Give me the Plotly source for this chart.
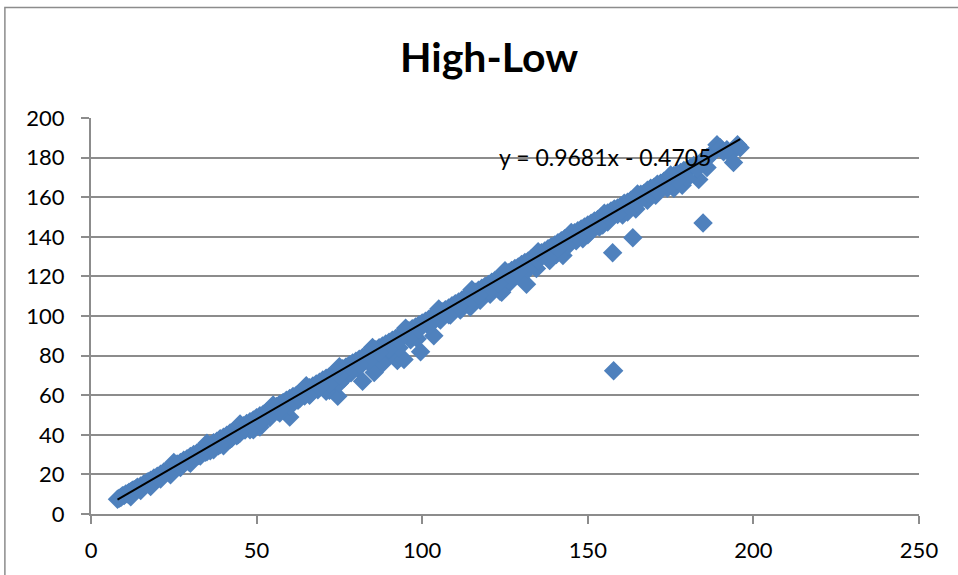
import plotly.graph_objects as go

# Daily high (x) and low (y) prices
high_price = [
    8, 8.5, 9, 9.5, 10, 10.5, 11, 11.5, 12, 12.5,
    13, 13.5, 14, 15, 15.5, 16, 17, 17.5, 18, 19,
    19.5, 20, 21, 21.5, 22, 23, 23.5, 24, 25, 25.5,
    26, 27, 27.5, 28, 29, 29.5, 30,
    31, 32, 32.5, 33, 34, 34.5, 35, 36, 36.5, 37,
    38, 38.5, 39, 40, 40.5, 41, 42, 42.5, 43, 44,
    44.5, 45, 46, 46.5, 47, 48, 48.5, 49, 50, 50.5,
    51, 52, 52.5, 53, 54, 54.5, 55, 56, 56.5, 57,
    58, 58.5, 59, 60, 60.5, 44, 49, 51, 60, 57,
    40, 37, 35,
    61, 62, 62.5, 63, 64, 64.5, 65, 66, 66.5, 67,
    68, 68.5, 69, 70, 70.5, 71, 72, 72, 73, 74,
    74.5, 75, 76, 76.5, 77, 78, 78.5, 79, 80, 80.5,
    81, 82, 82, 83, 84, 84.5, 85, 86, 85.5, 87,
    88, 88.5, 89, 90, 90.5, 91, 92, 92.5, 93, 94,
    94.5, 95, 96, 96.5, 97, 98, 98.5, 99, 100, 99.5,
    101, 102, 103, 103.5, 75, 71, 88, 93,
    104, 105, 105.5, 106, 107, 108, 108.5, 109, 110, 111,
    111.5, 112, 113, 114, 114.5, 115, 116, 117, 117.5, 118,
    119, 120, 120.5, 121, 122, 123, 123.5, 124, 125, 126,
    126.5, 127, 128, 129, 129.5, 130, 131, 131.5, 132, 133,
    134, 134.5, 135, 136, 137, 138.5, 138, 139, 140, 140.5,
    141, 142, 142.5, 143, 144, 145, 146.5, 146, 147, 148,
    148.5, 149, 150, 150.5, 112, 124,
    151, 152, 153, 153.5, 154, 155, 154.5, 156, 157, 157.5,
    158, 157.8, 159, 160, 160.5, 161, 162, 163, 163.6, 164,
    164.5, 165, 166, 167, 168, 168.5, 169, 170, 170.5, 171,
    172, 173, 174, 175, 176, 176, 177, 178, 178.5, 179,
    180, 181, 182, 183.5, 184, 184.8, 185, 186, 187, 188,
    189, 190, 191, 192, 193, 194, 195.2, 196,
    12, 18, 24, 30, 36, 42, 48, 54, 60, 66,
    72, 78, 84, 90, 96, 102, 108, 114, 120, 126,
    132, 138, 144, 150, 156, 162, 168, 174, 180, 186,
    15, 21, 27, 33, 39, 45, 51, 57, 63, 69,
    75, 81, 87, 93, 99, 105, 111, 117, 123, 129,
    135, 141, 147, 153, 159, 165, 171, 177, 183,
    25, 35, 45, 55, 65, 75, 85, 95, 105, 115,
    125, 135, 145, 155, 165, 175,
]

low_price = [
    7.5, 8, 8.3, 9.2, 9.4, 10.1, 10.2, 11, 11.2, 12,
    12.3, 12.6, 13.5, 14.2, 14, 15.3, 16.2, 16.4, 17.1, 18.2,
    17.6, 19.1, 20.1, 19.4, 21.2, 22, 21, 23.1, 24, 23.5,
    25.2, 26, 24.8, 27.1, 27.9, 26.4, 29.1,
    30, 30.8, 29.5, 32, 32.9, 31.2, 34, 34.8, 33.1, 36,
    36.7, 34.5, 38, 38.8, 36.9, 39.8, 40.9, 38.3, 41.8, 42.6,
    40.2, 43.8, 44.6, 42.4, 45.7, 46.6, 43.9, 47.5, 48.6, 45.8,
    49.6, 50.4, 47.8, 51.5, 52.4, 50, 53.5, 54.3, 51.8, 55.4,
    56.3, 53.6, 57.4, 58.3, 55.2, 39.5, 42.5, 44, 49, 51,
    34.5, 32.5, 31.5,
    59.3, 60, 57.4, 61.2, 61.8, 59.6, 62.9, 63.8, 61.2, 64.7,
    65.7, 62.8, 66.6, 67.7, 64.5, 68.6, 69.4, 62.5, 70.5, 71.5,
    59.5, 72.4, 73.3, 68.7, 74.3, 75.3, 71.3, 76.2, 77.2, 73.5,
    78.2, 79.1, 67, 80.1, 81, 75.5, 82, 83, 71.5, 84,
    84.8, 80.2, 85.8, 86.8, 82, 87.8, 88.6, 77.5, 89.7, 90.6,
    78, 91.6, 92.6, 88, 93.6, 94.4, 88.5, 95.4, 96.5, 82,
    97.4, 98.3, 99.4, 90, 66, 62, 76, 84,
    100.3, 101, 98, 102.2, 103.2, 104, 100.5, 105.2, 106.2, 107.1,
    103, 108.1, 109.2, 110, 104.5, 111, 112, 113, 108, 114,
    115, 115.9, 111, 117, 118, 119, 112.5, 120, 121, 121.8,
    117, 123, 124, 124.8, 120, 126, 127, 116, 127.8, 129,
    130, 124, 131, 132, 132.8, 128, 134, 135, 135.8, 131,
    137, 138, 130.5, 139, 140, 140.8, 138, 142, 143, 144,
    139, 145, 146, 142, 104, 112,
    146.8, 148, 148.8, 145, 150, 150.5, 146, 152, 153, 132,
    154, 72.4, 154.5, 155.5, 151, 157, 157.5, 158.5, 139.5, 159.5,
    154, 160.5, 161.5, 162, 163.5, 160, 164.5, 165, 161, 166.5,
    167, 168, 168.5, 170, 171, 164.5, 172, 172.5, 166, 173.5,
    174, 175, 176, 169, 177.5, 147, 178.5, 180, 181, 183,
    186.5, 185, 183, 184, 182, 177.5, 186.5, 185,
    8.7, 13.9, 19.8, 25.6, 31.9, 37.7, 42.5, 48.8, 54.6, 60,
    65.8, 72, 77.5, 83.5, 89, 95, 100.6, 106.5, 112.4, 118,
    123.5, 129.5, 135.5, 141, 147.5, 152.5, 158.5, 164.5, 169.5, 175,
    11.9, 17.7, 23.5, 29.3, 35.1, 40.9, 46.7, 52.5, 58.3, 64.1,
    69.9, 75.7, 81.6, 87.4, 93.2, 99, 104.8, 110.6, 116.4, 122.2,
    128, 133.8, 139.6, 145.4, 151.3, 157.1, 162.9, 168.7, 174.5,
    26, 35.7, 45.4, 55.1, 64.8, 74.4, 84.1, 93.8, 103.5, 113.2,
    122.8, 132.5, 142.2, 151.9, 161.6, 171.2,
]

# Linear trendline coefficients
slope = 0.9681
intercept = -0.4705

title_text = "High-Low"
x_ticks = [0, 50, 100, 150, 200, 250]
y_ticks = [0, 20, 40, 60, 80, 100, 120, 140, 160, 180, 200]

FONT = "Lato, Carlito, Calibri, sans-serif"
GRAY = "#8C8C8C"
BLUE = "#4F81BD"

x_min, x_max = min(high_price), max(high_price)
trend_x = [x_min, x_max]
trend_y = [slope * v + intercept for v in trend_x]

fig = go.Figure()
fig.add_trace(go.Scatter(
    x=high_price, y=low_price, mode="markers",
    marker=dict(symbol="diamond", size=15, color=BLUE, line=dict(width=0)),
    showlegend=False, cliponaxis=False,
))
fig.add_trace(go.Scatter(
    x=trend_x, y=trend_y, mode="lines",
    line=dict(color="black", width=2), showlegend=False,
))

fig.add_annotation(
    x=122.6, y=180.5, xref="x", yref="y",
    text=f"y = {slope}x - {abs(intercept)}",
    showarrow=False, xanchor="left", yanchor="middle",
    font=dict(family=FONT, size=23, color="black"),
)

# Outer chart frame (left and top edges)
fig.add_shape(
    type="path", xref="paper", yref="paper",
    path="M -0.104,-0.2 L -0.104,1.279 L 1.2,1.279",
    line=dict(color=GRAY, width=1.5),
)

fig.update_layout(
    width=958, height=575,
    margin=dict(l=91, r=39, t=118, b=59),
    paper_bgcolor="white", plot_bgcolor="white",
    title=dict(
        text=f"<b>{title_text}</b>", x=(489 - 91) / 828, xref="paper",
        y=1 - 58 / 575, yref="container", xanchor="center", yanchor="middle",
        font=dict(family=FONT, size=41, color="black"),
    ),
    font=dict(family=FONT, size=22, color="black"),
    xaxis=dict(
        range=[0, 250], tickvals=x_ticks, showgrid=False, zeroline=False,
        showline=True, linecolor=GRAY, linewidth=2,
        ticks="outside", ticklen=8, tickcolor=GRAY, tickwidth=2,
        ticklabelstandoff=8,
        tickfont=dict(family=FONT, size=22, color="black"),
    ),
    yaxis=dict(
        range=[0, 200], tickvals=y_ticks, showgrid=True, gridcolor=GRAY,
        gridwidth=2, zeroline=False, showline=True, linecolor=GRAY,
        linewidth=2, ticks="outside", ticklen=8, tickcolor=GRAY,
        tickwidth=2, ticklabelstandoff=12,
        tickfont=dict(family=FONT, size=22, color="black"),
    ),
)

fig.write_html("out.html")
